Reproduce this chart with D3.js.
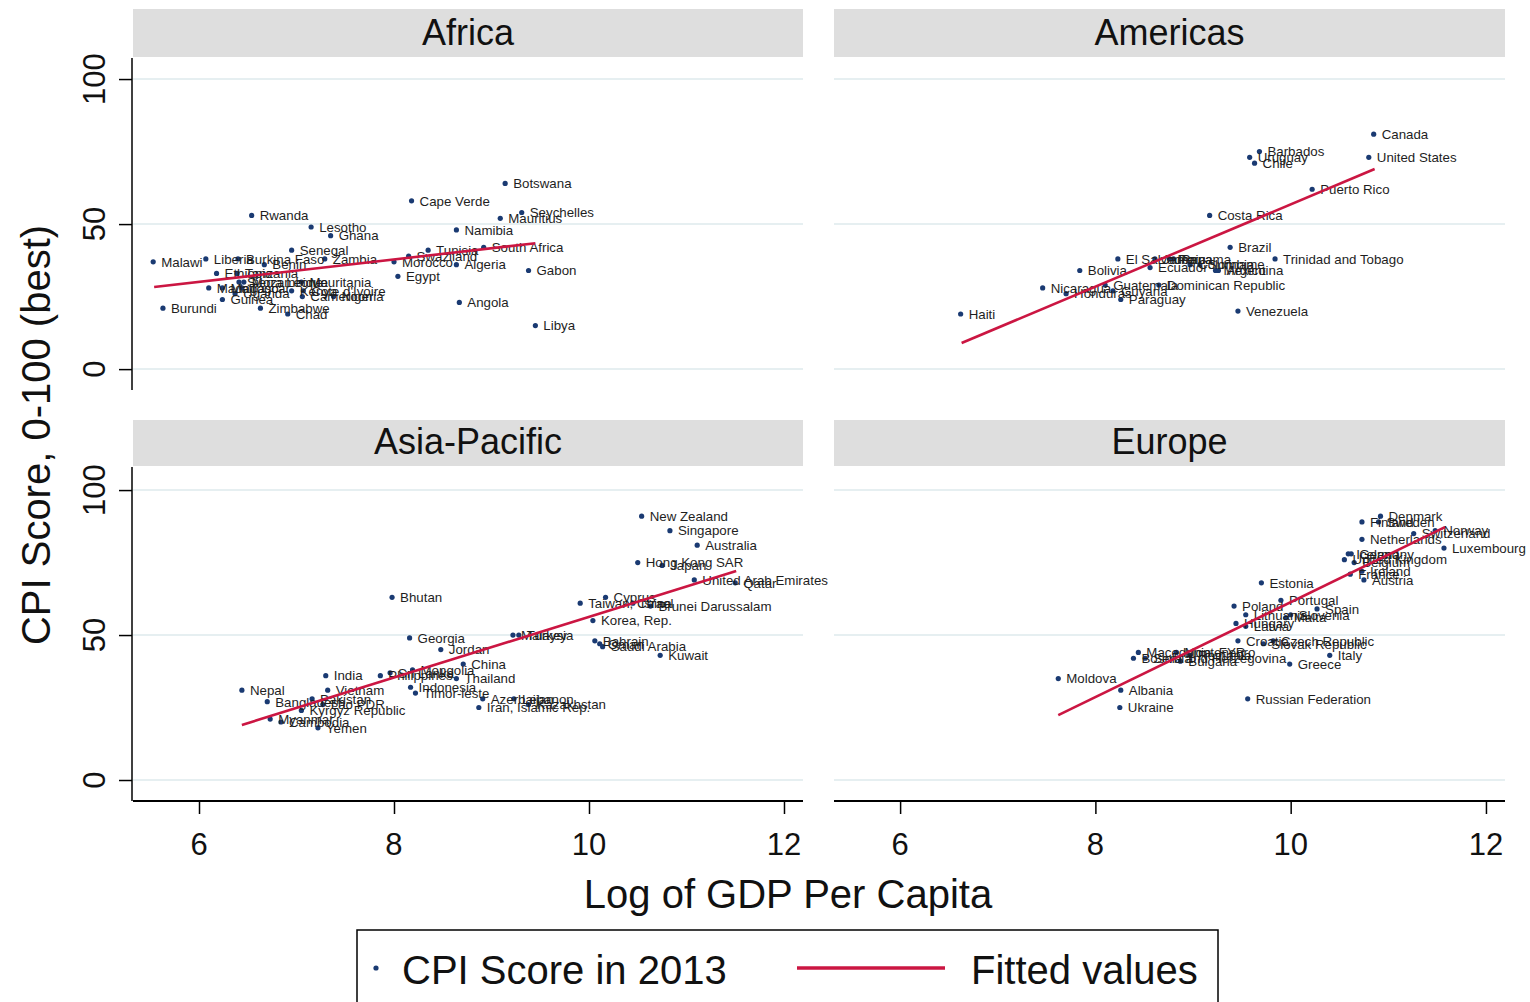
<!DOCTYPE html>
<html>
<head>
<meta charset="utf-8">
<script src="https://cdn.jsdelivr.net/npm/d3@7"></script>
<style>
  html, body { margin: 0; padding: 0; background: #fff; }
  svg { display: block; font-family: "Liberation Sans", Arial, Helvetica, sans-serif; }
</style>
</head>
<body>
<svg id="chart" width="1530" height="1002"></svg>
<script>
// ---------------- DATA ----------------
const regions = ["Africa", "Americas", "Asia-Pacific", "Europe"];

const africa = [
  ["Botswana", 9.14, 64], ["Cape Verde", 8.18, 58], ["Seychelles", 9.31, 54],
  ["Mauritius", 9.09, 52], ["Rwanda", 6.54, 53], ["Lesotho", 7.15, 49],
  ["Namibia", 8.64, 48], ["Ghana", 7.35, 46], ["South Africa", 8.92, 42],
  ["Tunisia", 8.35, 41], ["Senegal", 6.95, 41], ["Swaziland", 8.15, 39],
  ["Liberia", 6.07, 38], ["Burkina Faso", 6.40, 38], ["Zambia", 7.29, 38],
  ["Malawi", 5.53, 37], ["Morocco", 8.00, 37], ["Benin", 6.67, 36],
  ["Algeria", 8.64, 36], ["Gabon", 9.38, 34], ["Ethiopia", 6.18, 33],
  ["Tanzania", 6.39, 33], ["Egypt", 8.04, 32], ["Sierra Leone", 6.41, 30],
  ["Mozambique", 6.46, 30], ["Mauritania", 7.05, 30], ["Madagascar", 6.10, 28],
  ["Mali", 6.24, 28], ["Togo", 6.44, 28], ["Uganda", 6.37, 26],
  ["Kenya", 6.95, 27], ["Cote d'Ivoire", 7.07, 27], ["Cameroon", 7.06, 25],
  ["Nigeria", 7.38, 25], ["Angola", 8.67, 23], ["Guinea", 6.24, 24],
  ["Zimbabwe", 6.63, 21], ["Burundi", 5.63, 21], ["Chad", 6.91, 19],
  ["Libya", 9.45, 15]
];

const americas = [
  ["Canada", 10.85, 81], ["Barbados", 9.68, 75], ["Uruguay", 9.58, 73],
  ["United States", 10.80, 73], ["Chile", 9.63, 71], ["Puerto Rico", 10.22, 62],
  ["Costa Rica", 9.17, 53], ["Brazil", 9.38, 42], ["El Salvador", 8.23, 38],
  ["Jamaica", 8.61, 38], ["Peru", 8.76, 38], ["Panama", 8.80, 38],
  ["Trinidad and Tobago", 9.84, 38], ["Colombia", 8.97, 36], ["Suriname", 9.07, 36],
  ["Ecuador", 8.56, 35], ["Bolivia", 7.84, 34], ["Mexico", 9.23, 34],
  ["Argentina", 9.26, 34], ["Guatemala", 8.10, 29], ["Dominican Republic", 8.65, 29],
  ["Nicaragua", 7.46, 28], ["Guyana", 8.18, 27], ["Honduras", 7.70, 26],
  ["Paraguay", 8.26, 24], ["Venezuela", 9.46, 20], ["Haiti", 6.62, 19]
];

const asiaPacific = [
  ["New Zealand", 10.54, 91], ["Singapore", 10.83, 86], ["Australia", 11.11, 81],
  ["Hong Kong SAR", 10.50, 75], ["Japan", 10.75, 74], ["United Arab Emirates", 11.08, 69],
  ["Qatar", 11.50, 68], ["Bhutan", 7.98, 63], ["Cyprus", 10.17, 63],
  ["Taiwan, China", 9.91, 61], ["Israel", 10.45, 61], ["Brunei Darussalam", 10.63, 60],
  ["Korea, Rep.", 10.04, 55], ["Malaysia", 9.22, 50], ["Turkey", 9.28, 50],
  ["Georgia", 8.16, 49], ["Bahrain", 10.06, 48], ["Oman", 10.11, 47],
  ["Saudi Arabia", 10.14, 46], ["Jordan", 8.48, 45], ["Kuwait", 10.73, 43],
  ["China", 8.71, 40], ["Mongolia", 8.19, 38], ["Sri Lanka", 7.96, 37],
  ["Philippines", 7.86, 36], ["India", 7.30, 36], ["Thailand", 8.64, 35],
  ["Indonesia", 8.17, 32], ["Nepal", 6.44, 31], ["Vietnam", 7.32, 31],
  ["Timor-leste", 8.22, 30], ["Pakistan", 7.16, 28], ["Azerbaijan", 8.91, 28],
  ["Lebanon", 9.23, 28], ["Bangladesh", 6.70, 27], ["Lao PDR", 7.27, 26],
  ["Kazakhstan", 9.38, 26], ["Iran, Islamic Rep.", 8.87, 25], ["Kyrgyz Republic", 7.05, 24],
  ["Myanmar", 6.73, 21], ["Cambodia", 6.84, 20], ["Yemen", 7.22, 18]
];

const europe = [
  ["Denmark", 10.92, 91], ["Finland", 10.73, 89], ["Sweden", 10.90, 89],
  ["Norway", 11.48, 86], ["Switzerland", 11.26, 85], ["Netherlands", 10.73, 83],
  ["Luxembourg", 11.57, 80], ["Germany", 10.62, 78], ["Iceland", 10.59, 78],
  ["United Kingdom", 10.55, 76], ["Belgium", 10.65, 75], ["Ireland", 10.73, 72],
  ["France", 10.61, 71], ["Austria", 10.75, 69], ["Estonia", 9.70, 68],
  ["Portugal", 9.90, 62], ["Poland", 9.42, 60], ["Spain", 10.27, 59],
  ["Lithuania", 9.54, 57], ["Slovenia", 10.00, 57], ["Malta", 9.95, 56],
  ["Hungary", 9.44, 54], ["Latvia", 9.54, 53], ["Croatia", 9.46, 48],
  ["Czech Republic", 9.82, 48], ["Slovak Republic", 9.72, 47], ["Macedonia, FYR", 8.44, 44],
  ["Montenegro", 8.83, 44], ["Romania", 8.97, 43], ["Italy", 10.40, 43],
  ["Serbia", 8.51, 42], ["Bosnia and Herzegovina", 8.39, 42], ["Bulgaria", 8.87, 41],
  ["Greece", 9.99, 40], ["Moldova", 7.62, 35], ["Albania", 8.26, 31],
  ["Russian Federation", 9.56, 28], ["Ukraine", 8.25, 25]
];

// fitted-value line endpoints (log GDP, fitted CPI)
const fitAfrica = [[5.54, 28.3], [9.45, 43.4]];
const fitAmericas = [[6.63, 9.0], [10.86, 69.0]];
const fitAsiaPacific = [[6.44, 19.0], [11.51, 72.1]];
const fitEurope = [[7.62, 22.4], [11.58, 87.2]];

const xTicks = [6, 8, 10, 12];
const yTicks = [0, 50, 100];
const legendLabels = ["CPI Score in 2013", "Fitted values"];
const xTitle = "Log of GDP Per Capita";
const yTitle = "CPI Score, 0-100 (best)";

// ---------------- DRAW ----------------
const svg = d3.select("#chart");
const navy = "#1a3a72";
const red = "#cb1642";
const grid = "#e6eff1";
const strip = "#dedede";

const cols = [[133, 803], [834, 1505]];
const rows = [
  { strip: [9, 57], plot: [57, 390], dom: [-7.2, 107.6] },
  { strip: [420, 466], plot: [466, 801], dom: [-7.24, 108.3] }
];

const panels = [
  { name: regions[0], data: africa, fit: fitAfrica, c: 0, r: 0 },
  { name: regions[1], data: americas, fit: fitAmericas, c: 1, r: 0 },
  { name: regions[2], data: asiaPacific, fit: fitAsiaPacific, c: 0, r: 1 },
  { name: regions[3], data: europe, fit: fitEurope, c: 1, r: 1 }
];

panels.forEach(p => {
  const [x0, x1] = cols[p.c];
  const row = rows[p.r];
  const x = d3.scaleLinear().domain([5.323, 12.195]).range([x0, x1]);
  const y = d3.scaleLinear().domain(row.dom).range([row.plot[1], row.plot[0]]);
  const g = svg.append("g");

  // strip
  g.append("rect").attr("x", x0).attr("y", row.strip[0])
    .attr("width", x1 - x0).attr("height", row.strip[1] - row.strip[0])
    .attr("fill", strip);
  g.append("text").attr("x", (x0 + x1) / 2).attr("y", row.strip[1] - 12)
    .attr("text-anchor", "middle").attr("font-size", 36).attr("fill", "#111")
    .text(p.name);

  // grid lines
  g.selectAll("line.grid").data(yTicks).join("line")
    .attr("x1", x0).attr("x2", x1)
    .attr("y1", d => y(d)).attr("y2", d => y(d))
    .attr("stroke", grid).attr("stroke-width", 2);

  // y axis (left column only)
  if (p.c === 0) {
    const ax = g.append("g").attr("transform", `translate(${x0 - 1},0)`)
      .call(d3.axisLeft(y).tickValues(yTicks).tickSize(13).tickFormat(""));
    ax.select(".domain").attr("d", `M0,${row.plot[0] + 1}V${row.plot[1]}`)
      .attr("stroke", "#000").attr("stroke-width", 1.5);
    ax.selectAll(".tick line").attr("stroke", "#000").attr("stroke-width", 1.5);
    g.selectAll("text.ytick").data(yTicks).join("text")
      .attr("transform", d => `translate(105,${y(d)}) rotate(-90)`)
      .attr("text-anchor", "middle").attr("font-size", 31).attr("fill", "#111")
      .text(d => d);
  }

  // x axis (bottom row only)
  if (p.r === 1) {
    const ax = g.append("g").attr("transform", `translate(0,${row.plot[1]})`)
      .call(d3.axisBottom(x).tickValues(xTicks).tickSize(13).tickFormat(""));
    ax.select(".domain").attr("d", `M${x0},0H${x1}`)
      .attr("stroke", "#000").attr("stroke-width", 2);
    ax.selectAll(".tick line").attr("stroke", "#000").attr("stroke-width", 1.5);
    g.selectAll("text.xtick").data(xTicks).join("text")
      .attr("x", d => x(d)).attr("y", 855)
      .attr("text-anchor", "middle").attr("font-size", 31).attr("fill", "#111")
      .text(d => d);
  }

  // points
  g.selectAll("circle.pt").data(p.data).join("circle")
    .attr("cx", d => x(d[1])).attr("cy", d => y(d[2])).attr("r", 2.6)
    .attr("fill", navy);
  // marker labels
  g.selectAll("text.lbl").data(p.data).join("text")
    .attr("x", d => x(d[1]) + 8).attr("y", d => y(d[2]))
    .attr("dy", "0.36em").attr("font-size", 13.3).attr("fill", "#1e1e1e")
    .text(d => d[0]);

  // fitted line
  g.append("path").datum(p.fit)
    .attr("d", d3.line().x(d => x(d[0])).y(d => y(d[1])))
    .attr("fill", "none").attr("stroke", red).attr("stroke-width", 2.6);
});

// axis titles
svg.append("text").attr("x", 788).attr("y", 908).attr("text-anchor", "middle")
  .attr("font-size", 40).attr("fill", "#111").text(xTitle);
svg.append("text").attr("transform", "translate(50,435) rotate(-90)")
  .attr("text-anchor", "middle").attr("font-size", 40).attr("fill", "#111").text(yTitle);

// legend
const lg = svg.append("g");
lg.append("rect").attr("x", 357).attr("y", 930).attr("width", 861).attr("height", 100)
  .attr("fill", "#fff").attr("stroke", "#000").attr("stroke-width", 1.5);
lg.append("circle").attr("cx", 376).attr("cy", 968).attr("r", 2.6).attr("fill", navy);
lg.append("text").attr("x", 402).attr("y", 984).attr("font-size", 40).attr("fill", "#111")
  .text(legendLabels[0]);
lg.append("line").attr("x1", 797).attr("x2", 945).attr("y1", 968).attr("y2", 968)
  .attr("stroke", red).attr("stroke-width", 3.5);
lg.append("text").attr("x", 971).attr("y", 984).attr("font-size", 40).attr("fill", "#111")
  .text(legendLabels[1]);
</script>
</body>
</html>
